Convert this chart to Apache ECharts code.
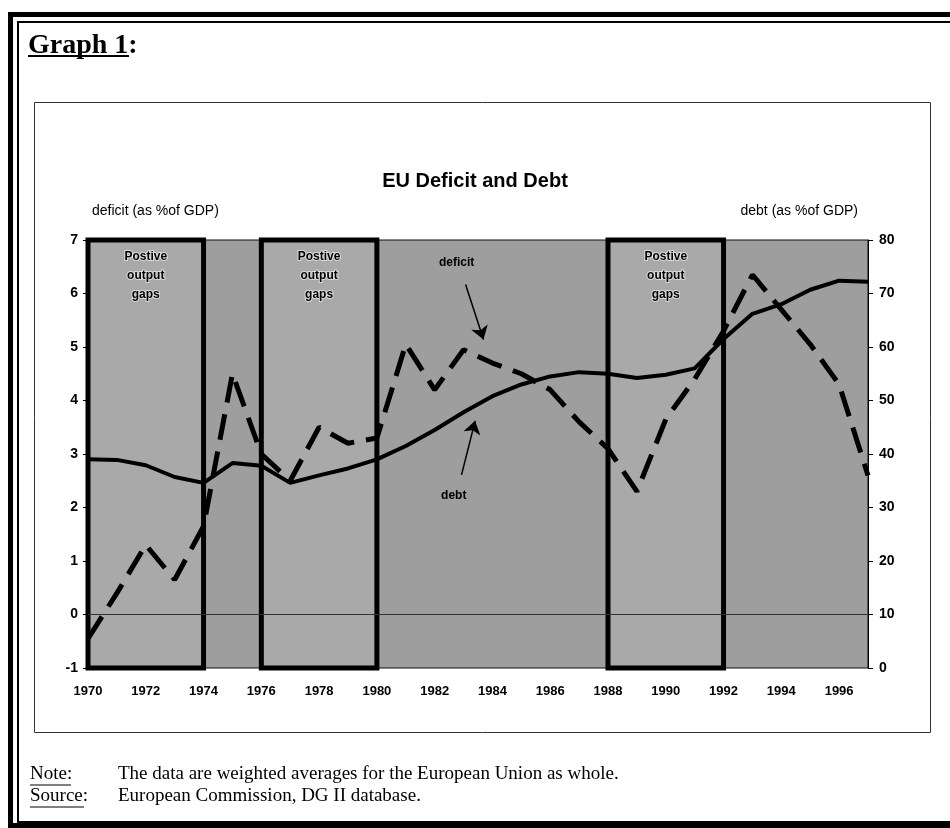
<!DOCTYPE html>
<html><head><meta charset="utf-8">
<script src="https://cdn.jsdelivr.net/npm/echarts@6/dist/echarts.min.js"></script>
<style>html,body{margin:0;padding:0;background:#fff}#c{width:950px;height:828px}</style>
</head><body><div id="c"></div>
<script>
// ---- data ----
const years   = [1970,1971,1972,1973,1974,1975,1976,1977,1978,1979,1980,1981,1982,1983,1984,1985,1986,1987,1988,1989,1990,1991,1992,1993,1994,1995,1996,1997];
const deficit = [-0.45,0.4,1.3,0.65,1.65,4.5,3.0,2.5,3.5,3.2,3.3,5.05,4.2,4.95,4.7,4.5,4.2,3.6,3.1,2.3,3.65,4.4,5.3,6.35,5.7,5.05,4.3,2.6];
const debt    = [39,38.9,37.9,35.7,34.6,38.3,37.8,34.6,36,37.3,39,41.5,44.5,47.8,50.8,53,54.5,55.3,55,54.2,54.8,56,61.5,66.2,68,70.7,72.4,72.2];
const gapStarts = [1970,1976,1988];
const gapEnds   = [1974,1980,1992];
const gapText = 'Postive\noutput\ngaps';
const titleText = 'EU Deficit and Debt';
const leftAxisName = 'deficit (as %of GDP)';
const rightAxisName = 'debt (as %of GDP)';

const SANS = '"Liberation Sans", Arial, sans-serif';
const SERIF = '"Liberation Serif", "Times New Roman", serif';

const chart = echarts.init(document.getElementById('c'), null, {renderer:'canvas'});

const option = {
  animation:false,
  backgroundColor:'#fff',
  title:{text:titleText,left:'center',top:166,textStyle:{fontFamily:SANS,fontWeight:'bold',fontSize:20,color:'#000'}},
  grid:{left:88,right:82,top:240,bottom:160,show:true,backgroundColor:'#9e9e9e',borderColor:'#111',borderWidth:1},
  xAxis:{type:'value',min:1970,max:1997,interval:2,
    axisLine:{show:false},axisTick:{show:false},splitLine:{show:false},
    axisLabel:{showMaxLabel:false,formatter:v=>String(v),fontFamily:SANS,fontWeight:'bold',fontSize:13,color:'#000',margin:17}},
  yAxis:[
    {type:'value',min:-1,max:7,interval:1,position:'left',
     name:leftAxisName,nameLocation:'end',nameGap:22,
     nameTextStyle:{fontFamily:SANS,fontSize:14,color:'#000',align:'left',padding:[0,0,0,4]},
     axisLine:{show:true,lineStyle:{color:'#000',width:1}},axisTick:{show:true,length:5,lineStyle:{color:'#000'}},
     splitLine:{show:false},
     axisLabel:{fontFamily:SANS,fontWeight:'bold',fontSize:14,color:'#000',margin:10}},
    {type:'value',min:0,max:80,interval:10,position:'right',
     name:rightAxisName,nameLocation:'end',nameGap:22,
     nameTextStyle:{fontFamily:SANS,fontSize:14,color:'#000',align:'right',padding:[0,10,0,0]},
     axisLine:{show:true,lineStyle:{color:'#000',width:1}},axisTick:{show:true,length:5,lineStyle:{color:'#000'}},
     splitLine:{show:false},
     axisLabel:{fontFamily:SANS,fontWeight:'bold',fontSize:14,color:'#000',margin:11}}
  ],
  series:[
    {name:'debt',type:'line',yAxisIndex:1,symbol:'none',z:3,
     data:years.map((y,i)=>[y,debt[i]]),
     lineStyle:{color:'#000',width:4},
     markLine:{silent:true,symbol:['none','arrow'],symbolSize:13,label:{show:false},
       lineStyle:{color:'#000',width:1.5,type:'solid'},
       data:[[{coord:[1982.93,36.1]},{coord:[1983.4,46.2]}]]},
     markPoint:{silent:true,symbol:'circle',symbolSize:0,
       label:{show:true,position:'inside',formatter:'debt',fontFamily:SANS,fontWeight:'bold',fontSize:12,color:'#000'},
       data:[{coord:[1982.66,32.2],value:0}]}
    },
    {name:'deficit',type:'line',yAxisIndex:0,symbol:'none',z:4,
     data:years.map((y,i)=>[y,deficit[i]]),
     lineStyle:{color:'#000',width:5,type:[26,12]},
     markArea:{silent:true,
       itemStyle:{color:'rgba(255,255,255,0.12)',borderColor:'#000',borderWidth:5},
       label:{show:true,position:'insideTop',distance:10,formatter:gapText,fontFamily:SANS,fontWeight:'bold',fontSize:12,lineHeight:19,color:'#000',
              textBorderColor:'rgba(255,255,255,0.55)',textBorderWidth:2},
       data:gapStarts.map((s,i)=>[{xAxis:s,yAxis:7},{xAxis:gapEnds[i],yAxis:-1}])},
     markLine:{silent:true,symbol:['none','none'],label:{show:false},
       data:[
         {yAxis:0,lineStyle:{color:'#333',width:1,type:'solid'}},
         [{coord:[1983.07,6.17],symbol:'none'},{coord:[1983.69,5.14],symbol:'arrow',symbolSize:13}]
       ],
       lineStyle:{color:'#000',width:1.5,type:'solid'}},
     markPoint:{silent:true,symbol:'circle',symbolSize:0,
       label:{show:true,position:'inside',formatter:'deficit',fontFamily:SANS,fontWeight:'bold',fontSize:12,color:'#000'},
       data:[{coord:[1982.76,6.58],value:0}]}
    }
  ],
  graphic:[
    {type:'rect',silent:true,z:100,shape:{x:10.5,y:14.5,width:980,height:811},style:{fill:null,stroke:'#000',lineWidth:5}},
    {type:'rect',silent:true,z:100,shape:{x:18,y:22,width:980,height:800},style:{fill:null,stroke:'#000',lineWidth:2}},
    {type:'rect',silent:true,z:100,shape:{x:34.5,y:102.5,width:896,height:630},style:{fill:null,stroke:'#333',lineWidth:1}},
    {type:'text',silent:true,z:100,style:{text:'Graph 1:',x:28,y:60,textVerticalAlign:'bottom',font:'bold 28px '+SERIF,fill:'#000'}},
    {type:'line',silent:true,z:100,shape:{x1:28,y1:56,x2:129,y2:56},style:{stroke:'#000',lineWidth:2}},
    {type:'text',silent:true,z:100,style:{text:'Note:',x:30,y:784,textVerticalAlign:'bottom',font:'19px '+SERIF,fill:'#000'}},
    {type:'line',silent:true,z:100,shape:{x1:30,y1:785,x2:71,y2:785},style:{stroke:'#000',lineWidth:1}},
    {type:'text',silent:true,z:100,style:{text:'The data are weighted averages for the European Union as whole.',x:118,y:784,textVerticalAlign:'bottom',font:'19px '+SERIF,fill:'#000'}},
    {type:'text',silent:true,z:100,style:{text:'Source:',x:30,y:806,textVerticalAlign:'bottom',font:'19px '+SERIF,fill:'#000'}},
    {type:'line',silent:true,z:100,shape:{x1:30,y1:807,x2:84,y2:807},style:{stroke:'#000',lineWidth:1}},
    {type:'text',silent:true,z:100,style:{text:'European Commission, DG II database.',x:118,y:806,textVerticalAlign:'bottom',font:'19px '+SERIF,fill:'#000'}}
  ]
};
chart.setOption(option);
</script></body></html>
